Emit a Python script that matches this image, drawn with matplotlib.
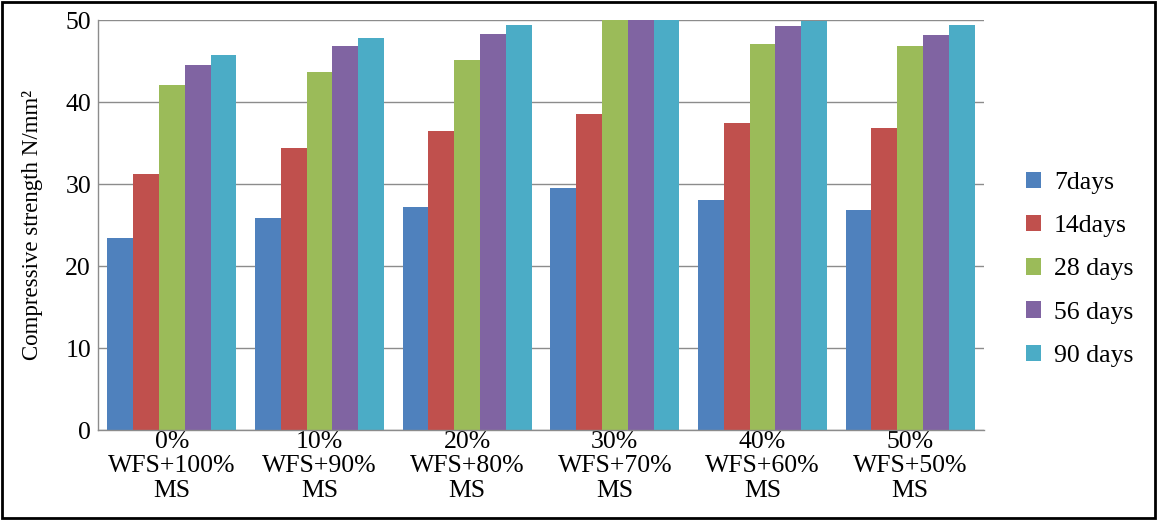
import numpy as np
import matplotlib.pyplot as plt
from matplotlib.patches import Rectangle

plt.rcParams['font.family'] = ['Liberation Serif', 'DejaVu Serif']

mixes = ['0%\nWFS+100%\nMS', '10%\nWFS+90%\nMS', '20%\nWFS+80%\nMS',
         '30%\nWFS+70%\nMS', '40%\nWFS+60%\nMS', '50%\nWFS+50%\nMS']
ages = ['7days', '14days', '28 days', '56 days', '90 days']

# compressive strength (N/mm2) per mix, one list per curing age
d7 = [23.4, 25.9, 27.2, 29.5, 28.0, 26.8]
d14 = [31.2, 34.4, 36.5, 38.5, 37.4, 36.8]
d28 = [42.1, 43.7, 45.1, 50.5, 47.1, 46.8]
d56 = [44.5, 46.8, 48.3, 51.2, 49.3, 48.2]
d90 = [45.7, 47.8, 49.4, 52.0, 49.9, 49.4]

colors = ['#4F81BD', '#C0504D', '#9BBB59', '#8064A2', '#4BACC6']

fig = plt.figure(figsize=(11.57, 5.2), dpi=100)
ax = fig.add_axes([0.0847, 0.173, 0.7658, 0.7885])

x = np.arange(len(mixes))
w = 0.175
for i, (vals, lab, c) in enumerate(zip([d7, d14, d28, d56, d90], ages, colors)):
    ax.bar(x + (i - 2) * w, vals, w, color=c, label=lab, zorder=2)

ax.set_xlim(-0.5, len(mixes) - 0.5)
ax.set_ylim(0, 50)
ax.set_yticks([0, 10, 20, 30, 40, 50])
ax.yaxis.grid(True, color='#8c8c8c', lw=1.0, zorder=0)
ax.set_axisbelow(True)
ax.set_xticks(x)
ax.set_xticklabels(mixes, fontsize=18.5, linespacing=1.12)
ax.tick_params(axis='y', length=0, pad=5, labelsize=18.5)
ax.tick_params(axis='x', length=0, pad=1)
ax.set_ylabel('Compressive strength N/mm²', fontsize=16.5)
ax.yaxis.set_label_coords(-0.062, 0.5)

for s in ['top', 'right']:
    ax.spines[s].set_visible(False)
for s in ['left', 'bottom']:
    ax.spines[s].set_color('#8c8c8c')
    ax.spines[s].set_linewidth(1.0)

ax.legend(loc='center left', bbox_to_anchor=(1.047, 0.392), frameon=False,
          fontsize=18.5, handlelength=0.6, handleheight=0.6, handletextpad=0.5,
          labelspacing=0.82, borderpad=0, borderaxespad=0)

fig.patches.append(Rectangle((0.002, 0.004), 0.996, 0.992, transform=fig.transFigure,
                             fill=False, edgecolor='black', lw=2.0))

fig.savefig('out.png', dpi=100)
